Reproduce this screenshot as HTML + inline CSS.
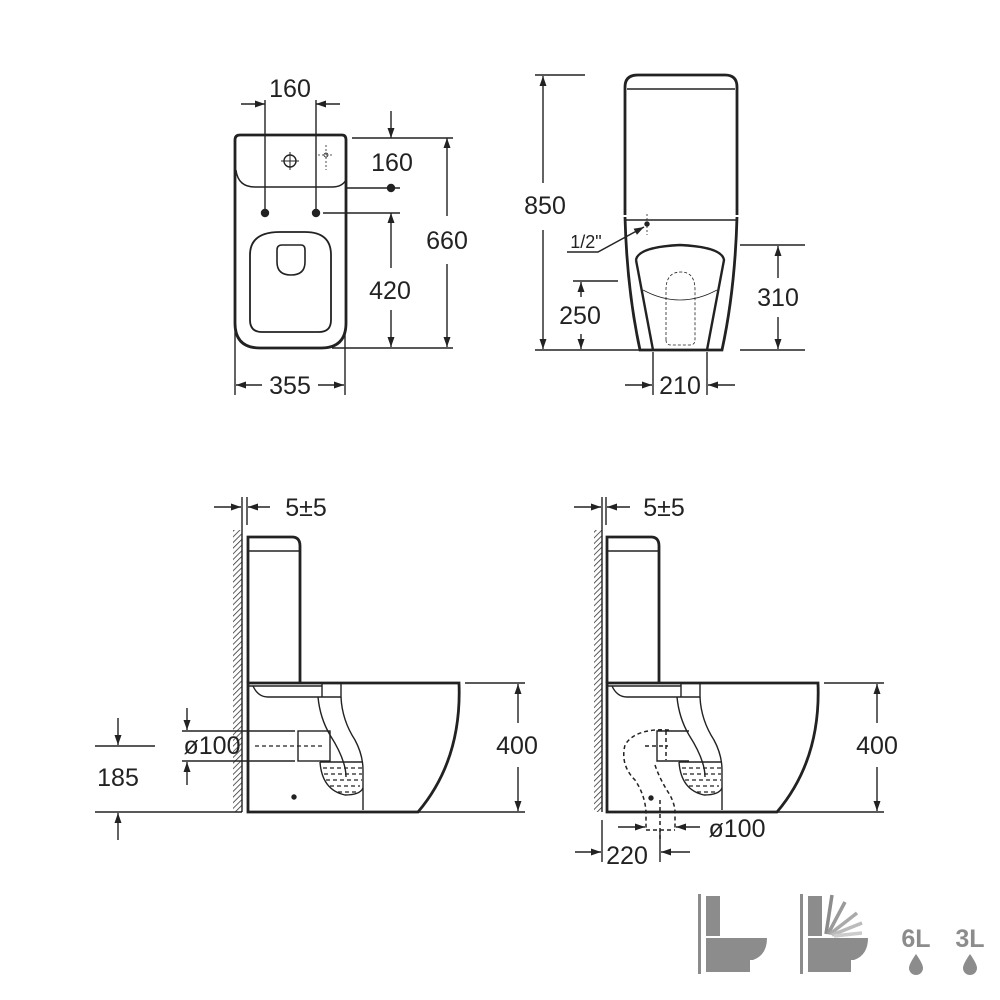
<!DOCTYPE html>
<html><head><meta charset="utf-8"><style>
html,body{margin:0;padding:0;background:#fff;}
svg{display:block}
text{font-family:"Liberation Sans",Arial,sans-serif;fill:#222;}
</style></head><body>
<svg width="1000" height="1000" viewBox="0 0 1000 1000" xmlns="http://www.w3.org/2000/svg">
<defs>
<marker id="a" viewBox="0 0 10 10" refX="10" refY="5" markerWidth="10" markerHeight="10" orient="auto-start-reverse" markerUnits="userSpaceOnUse"><path d="M0,1.5 L10,5 L0,8.5 z" fill="#222"/></marker>
<pattern id="h" width="4" height="4" patternUnits="userSpaceOnUse" patternTransform="rotate(45)"><rect width="4" height="4" fill="#fff"/><line x1="0" y1="0" x2="0" y2="4" stroke="#333" stroke-width="1.6"/></pattern>
</defs>
<g stroke="#222" fill="none" stroke-width="1.4">
<!-- TOP LEFT VIEW -->
<path d="M235,140 Q235,135 240,135 L342,135 Q346,135 346,140 L346,323 Q346,348 321,348 L260,348 Q235,348 235,323 Z" stroke-width="2.8"/>
<path d="M236,170 Q238,187 255,187 L332,187 Q342,187 346,180"/>
<circle cx="290" cy="161" r="6"/><line x1="281" y1="161" x2="299" y2="161" stroke-width="1"/><line x1="290" y1="152" x2="290" y2="170" stroke-width="1"/>
<circle cx="326" cy="155" r="2" stroke-width="0.8"/><line x1="326" y1="145" x2="326" y2="170" stroke-dasharray="2 2" stroke-width="0.8"/><line x1="318" y1="155" x2="334" y2="155" stroke-dasharray="2 2" stroke-width="0.8"/>
<circle cx="265" cy="213" r="3.5" fill="#222"/><circle cx="316" cy="213" r="3.5" fill="#222"/>
<path d="M250,255 Q250,232 280,232 L305,232 Q331,232 331,255 L331,320 Q331,332 319,332 L262,332 Q250,332 250,320 Z" stroke-width="1.8"/>
<path d="M277,250 Q277,245 282,245 L301,245 Q305,245 305,250 L305,262 Q305,275 291,275 Q277,275 277,262 Z" stroke-width="1.6"/>
<line x1="265" y1="100" x2="265" y2="210"/><line x1="316" y1="100" x2="316" y2="210"/>
<line x1="241" y1="104" x2="265" y2="104" marker-end="url(#a)"/><line x1="340" y1="104" x2="316" y2="104" marker-end="url(#a)"/>
<line x1="352" y1="138" x2="453" y2="138"/><line x1="391" y1="111" x2="391" y2="138" marker-end="url(#a)"/>
<line x1="346" y1="188" x2="400" y2="188"/><circle cx="391" cy="188" r="3.5" fill="#222"/>
<line x1="323" y1="213" x2="400" y2="213"/>
<line x1="391" y1="268" x2="391" y2="213" marker-end="url(#a)"/><line x1="391" y1="310" x2="391" y2="347" marker-end="url(#a)"/>
<line x1="332" y1="348" x2="453" y2="348"/>
<line x1="447" y1="216" x2="447" y2="138" marker-end="url(#a)"/><line x1="447" y1="264" x2="447" y2="347" marker-end="url(#a)"/>
<line x1="235" y1="330" x2="235" y2="395"/><line x1="345" y1="330" x2="345" y2="395"/>
<line x1="262" y1="385" x2="236" y2="385" marker-end="url(#a)"/><line x1="318" y1="385" x2="344" y2="385" marker-end="url(#a)"/>
<!-- TOP RIGHT VIEW -->
<path d="M625,215 L625,87 Q625,75 638,75 L725,75 Q737,75 737,87 L737,215" stroke-width="2.8"/>
<line x1="627" y1="89" x2="735" y2="89"/>
<line x1="625" y1="220" x2="737" y2="220" stroke-width="1.6"/>
<path d="M625,217 Q627,290 640,350 L722,350 Q735,290 737,217" stroke-width="2.8"/>
<path d="M636,260 Q638,247 680,245 Q722,247 724,260 L707,350" stroke-width="2.4"/>
<path d="M636,260 L653,350" stroke-width="2.4"/>
<path d="M643,290 Q680,310 717,290" stroke-width="0.8"/>
<path d="M666,340 L666,290 Q666,272 681,272 Q695,272 695,290 L695,340 Q695,345 690,345 L671,345 Q666,345 666,340" stroke-width="0.8" stroke-dasharray="3 2"/>
<line x1="647" y1="214" x2="647" y2="235" stroke-dasharray="2 2" stroke-width="0.8"/><circle cx="647" cy="224" r="2" fill="#222"/>
<line x1="535" y1="75" x2="585" y2="75"/><line x1="535" y1="350" x2="640" y2="350"/>
<line x1="543" y1="183" x2="543" y2="76" marker-end="url(#a)"/><line x1="543" y1="230" x2="543" y2="349" marker-end="url(#a)"/>
<path d="M567,252 L598,252 L644,227" marker-end="url(#a)"/>
<line x1="573" y1="281" x2="618" y2="281"/>
<line x1="581" y1="297" x2="581" y2="282" marker-end="url(#a)"/><line x1="581" y1="334" x2="581" y2="349" marker-end="url(#a)"/>
<line x1="740" y1="245" x2="805" y2="245"/><line x1="740" y1="350" x2="805" y2="350"/>
<line x1="778" y1="278" x2="778" y2="246" marker-end="url(#a)"/><line x1="778" y1="317" x2="778" y2="349" marker-end="url(#a)"/>
<line x1="653" y1="352" x2="653" y2="395"/><line x1="707" y1="352" x2="707" y2="395"/>
<line x1="625" y1="385" x2="652" y2="385" marker-end="url(#a)"/><line x1="735" y1="385" x2="708" y2="385" marker-end="url(#a)"/>
</g>

<!-- BOTTOM LEFT -->
<g stroke="#222" fill="none" stroke-width="1.4">
<rect x="233" y="530" width="9" height="282" fill="url(#h)" stroke="none"/>
<line x1="242" y1="497" x2="242" y2="812"/><line x1="247" y1="497" x2="247" y2="525"/>
<line x1="214" y1="507" x2="241" y2="507" marker-end="url(#a)"/><line x1="270" y1="507" x2="248" y2="507" marker-end="url(#a)"/>
<path d="M248,683 L248,537 L292,537 Q300,537 300,546 L300,683" stroke-width="2.8"/>
<line x1="249" y1="551" x2="299" y2="551"/>
<path d="M248,683 L459,683 Q462,760 418,812 L248,812 Z" stroke-width="2.8"/>
<line x1="418" y1="812" x2="525" y2="812"/>
<line x1="249" y1="686" x2="322" y2="686"/>
<path d="M253,686 Q258,697 268,697 L322,697 M322,683 L322,697 L341,697 L341,683"/>
<path d="M318,697 Q320,718 330,735 Q346,760 346,777"/>
<path d="M341,697 Q342,720 355,740 Q363,755 363,770 L363,810"/>
<path d="M320,762 Q322,790 345,795 Q360,795 363,788"/>
<rect x="298" y="731" width="32" height="30"/>
<line x1="320" y1="762" x2="363" y2="762"/>
<g stroke-dasharray="4 3" stroke-width="1.2"><line x1="323" y1="768" x2="362" y2="768"/><line x1="324" y1="774" x2="362" y2="774"/><line x1="326" y1="780" x2="362" y2="780"/><line x1="330" y1="786" x2="360" y2="786"/><line x1="338" y1="792" x2="356" y2="792"/>
<line x1="255" y1="746" x2="325" y2="746"/></g>
<circle cx="294" cy="797" r="2" fill="#222"/>
<line x1="182" y1="731" x2="295" y2="731"/><line x1="182" y1="761" x2="295" y2="761"/>
<line x1="187" y1="708" x2="187" y2="730" marker-end="url(#a)"/><line x1="187" y1="785" x2="187" y2="762" marker-end="url(#a)"/>
<line x1="95" y1="746" x2="155" y2="746"/><line x1="95" y1="812" x2="242" y2="812"/>
<line x1="118" y1="718" x2="118" y2="745" marker-end="url(#a)"/><line x1="118" y1="840" x2="118" y2="813" marker-end="url(#a)"/>
<line x1="465" y1="683" x2="525" y2="683"/>
<line x1="518" y1="723" x2="518" y2="684" marker-end="url(#a)"/><line x1="518" y1="767" x2="518" y2="811" marker-end="url(#a)"/>
</g>

<!-- BOTTOM RIGHT -->
<g stroke="#222" fill="none" stroke-width="1.4">
<rect x="594" y="530" width="8" height="282" fill="url(#h)" stroke="none"/>
<line x1="602" y1="497" x2="602" y2="812"/><line x1="606" y1="497" x2="606" y2="525"/>
<line x1="574" y1="507" x2="601" y2="507" marker-end="url(#a)"/><line x1="630" y1="507" x2="607" y2="507" marker-end="url(#a)"/>
<g transform="translate(359,0)">
<path d="M248,683 L248,537 L292,537 Q300,537 300,546 L300,683" stroke-width="2.8"/>
<line x1="249" y1="551" x2="299" y2="551"/>
<path d="M248,683 L459,683 Q462,760 418,812 L248,812 Z" stroke-width="2.8"/>
<line x1="418" y1="812" x2="525" y2="812"/>
<line x1="249" y1="686" x2="322" y2="686"/>
<path d="M253,686 Q258,697 268,697 L322,697 M322,683 L322,697 L341,697 L341,683"/>
<path d="M318,697 Q320,718 330,735 Q346,760 346,777"/>
<path d="M341,697 Q342,720 355,740 Q363,755 363,770 L363,810"/>
<path d="M320,762 Q322,790 345,795 Q360,795 363,788"/>
<path d="M330,731 L298,731 L298,761 L330,761"/>
<line x1="320" y1="762" x2="363" y2="762"/>
<g stroke-dasharray="4 3" stroke-width="1.2"><line x1="323" y1="768" x2="362" y2="768"/><line x1="324" y1="774" x2="362" y2="774"/><line x1="326" y1="780" x2="362" y2="780"/><line x1="330" y1="786" x2="360" y2="786"/><line x1="338" y1="792" x2="356" y2="792"/></g>
<line x1="518" y1="723" x2="518" y2="684" marker-end="url(#a)"/><line x1="518" y1="767" x2="518" y2="811" marker-end="url(#a)"/>
<line x1="465" y1="683" x2="525" y2="683"/>
</g>
<g stroke-dasharray="4 3" stroke-width="1.5">
<path d="M669,730 Q635,728 625,745 Q620,765 635,780 Q645,795 646,812 L646,830"/>
<path d="M655,765 Q660,780 670,795 Q675,805 675,812 L675,830"/>
<line x1="646" y1="830" x2="675" y2="830"/>
<line x1="666" y1="731" x2="666" y2="760"/>
<line x1="660" y1="800" x2="660" y2="840"/>
<line x1="645" y1="746" x2="668" y2="746"/>
</g>
<circle cx="651" cy="798" r="2" fill="#222"/>
<line x1="618" y1="827" x2="645" y2="827" marker-end="url(#a)"/><line x1="700" y1="827" x2="676" y2="827" marker-end="url(#a)"/>
<line x1="602" y1="820" x2="602" y2="862"/><line x1="660" y1="830" x2="660" y2="862"/>
<line x1="575" y1="852" x2="601" y2="852" marker-end="url(#a)"/><line x1="690" y1="852" x2="661" y2="852" marker-end="url(#a)"/>
</g>

<g font-size="25">
<text x="290" y="97" text-anchor="middle">160</text>
<text x="392" y="171" text-anchor="middle">160</text>
<text x="390" y="299" text-anchor="middle">420</text>
<text x="447" y="249" text-anchor="middle">660</text>
<text x="290" y="394" text-anchor="middle">355</text>
<text x="545" y="214" text-anchor="middle">850</text>
<text x="586" y="248" text-anchor="middle" font-size="18">1/2"</text>
<text x="580" y="324" text-anchor="middle">250</text>
<text x="778" y="306" text-anchor="middle">310</text>
<text x="680" y="394" text-anchor="middle">210</text>
<text x="306" y="516" text-anchor="middle">5±5</text>
<text x="664" y="516" text-anchor="middle">5±5</text>
<text x="212" y="754" text-anchor="middle">ø100</text>
<text x="118" y="786" text-anchor="middle">185</text>
<text x="517" y="754" text-anchor="middle">400</text>
<text x="877" y="754" text-anchor="middle">400</text>
<text x="737" y="837" text-anchor="middle">ø100</text>
<text x="627" y="864" text-anchor="middle">220</text>
</g>

<!-- ICONS -->
<g fill="#8c8c8c">
<rect x="698" y="894" width="3" height="80"/>
<rect x="706" y="896" width="14" height="40"/>
<path d="M706,938 L767,938 Q767,955 753,960 L750,960 L750,972 L706,972 Z"/>
<rect x="800" y="894" width="3" height="80"/>
<rect x="808" y="896" width="14" height="40"/>
<path d="M808,938 L868,938 Q868,955 854,960 L851,960 L851,972 L808,972 Z"/>
<g stroke="#8c8c8c" stroke-width="3.5" fill="none">
<line x1="826" y1="934" x2="832" y2="895"/>
<line x1="828" y1="934" x2="845" y2="902" stroke="#9a9a9a"/>
<line x1="830" y1="934" x2="857" y2="913" stroke="#aaa"/>
<line x1="832" y1="935" x2="862" y2="923" stroke="#bbb"/>
<line x1="834" y1="936" x2="862" y2="933" stroke="#ccc"/>
</g>
<text x="916" y="947" text-anchor="middle" font-size="25" font-weight="bold" style="fill:#8c8c8c">6L</text>
<text x="970" y="947" text-anchor="middle" font-size="25" font-weight="bold" style="fill:#8c8c8c">3L</text>
<path d="M916,954 Q909,964 909,968 A7,7 0 0 0 923,968 Q923,964 916,954 Z"/>
<path d="M970,954 Q963,964 963,968 A7,7 0 0 0 977,968 Q977,964 970,954 Z"/>
</g>
</svg>
</body></html>
